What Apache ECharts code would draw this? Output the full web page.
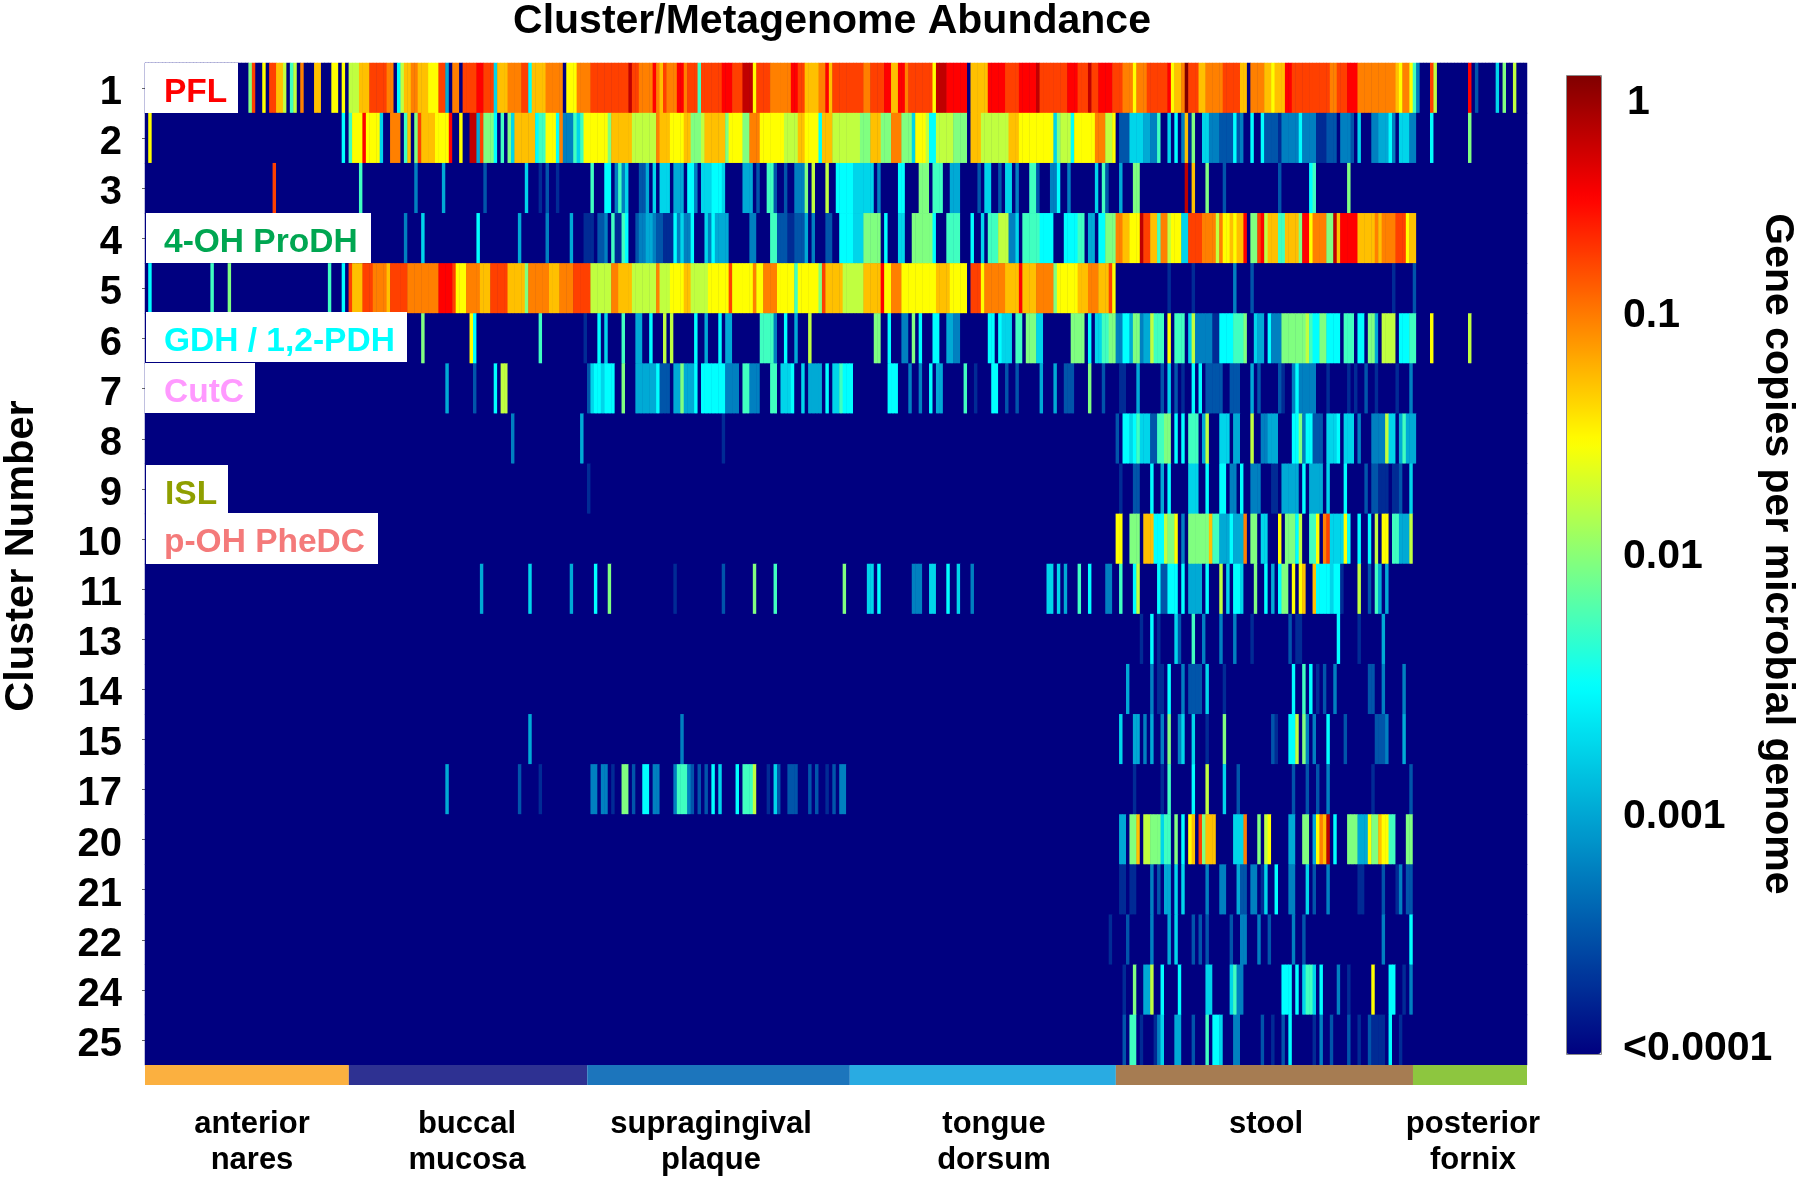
<!DOCTYPE html>
<html><head><meta charset="utf-8">
<script src="https://cdn.jsdelivr.net/npm/echarts@6/dist/echarts.min.js"></script>
<style>html,body{margin:0;background:#fff}#c{width:1800px;height:1182px}</style></head>
<body><div id="c"></div>
<script>
// Sample count across the x axis, cluster row labels
const sampleCount = 400;
const clusters = ['1','2','3','4','5','6','7','8','9','10','11','13','14','15','17','20','21','22','24','25'];
// Abundance in quarter-decades above 1e-4 copies: 0 = <0.0001, 4 = 0.001, 8 = 0.01, 12 = 0.1, 16 = 1
// Entries: [sample, level] or [firstSample, lastSample, level]
const c1 = [[30,8],[31,13],[34,10],[36,37,13],[38,39,11],[40,9],[42,7],[43,9],[45,12],[49,50,11],[54,55,10],[57,10],[59,61,9],[62,64,11],[65,69,13],[70,71,12],[73,6],[74,9],[75,76,11],[77,78,12],[79,81,11],[82,84,10],[85,86,13],[87,4],[89,90,12],[92,95,13],[96,97,14],[98,100,13],[101,5],[102,104,11],[105,108,12],[109,110,13],[111,6],[112,115,11],[116,120,12],[122,124,10],[125,128,12],[129,139,13],[140,15],[141,142,13],[143,146,12],[147,14],[148,12],[149,11],[150,13],[151,153,12],[154,155,14],[156,12],[157,159,13],[160,7],[161,166,13],[167,169,14],[170,172,13],[173,175,15],[176,10],[177,180,13],[181,186,12],[187,188,14],[189,190,13],[191,194,11],[195,196,12],[197,14],[198,11],[199,207,13],[208,209,12],[210,213,13],[214,215,14],[216,217,11],[218,219,14],[220,12],[221,227,13],[228,10],[229,231,15],[232,237,14],[239,243,11],[244,248,14],[249,252,13],[253,257,14],[258,15],[259,266,13],[267,269,14],[270,272,13],[273,15],[274,275,13],[276,279,14],[280,282,13],[283,285,12],[286,10],[287,289,12],[290,295,13],[296,14],[297,10],[298,299,11],[300,12],[301,16],[302,304,13],[305,306,11],[307,311,12],[312,316,13],[317,318,11],[320,323,12],[324,325,11],[326,10],[327,329,11],[330,331,14],[332,342,13],[343,344,12],[345,347,13],[348,350,14],[351,361,12],[362,11],[363,10],[364,365,12],[366,10],[367,7],[368,3],[372,13],[373,9],[383,14],[385,2],[391,5],[393,8],[396,9]];
const c2 = [[1,10],[57,6],[59,7],[60,62,10],[63,14],[64,67,10],[68,5],[71,73,12],[75,7],[76,11],[78,8],[79,13],[80,83,11],[84,87,10],[88,14],[91,10],[94,95,15],[96,4],[97,13],[98,100,8],[101,6],[103,7],[105,8],[106,5],[107,112,11],[113,6],[114,115,7],[116,118,10],[119,6],[120,12],[121,123,3],[124,7],[125,5],[126,7],[127,133,10],[134,8],[135,136,11],[137,140,11],[141,147,9],[148,12],[149,151,11],[152,155,10],[156,157,11],[158,160,8],[161,9],[162,167,11],[168,8],[169,172,10],[173,174,8],[175,177,12],[178,184,10],[185,188,9],[189,190,11],[191,194,10],[195,6],[196,198,11],[199,206,9],[207,209,8],[210,212,11],[213,215,8],[216,218,12],[219,221,8],[222,5],[223,225,10],[226,9],[227,228,6],[229,233,9],[234,237,8],[239,241,11],[242,249,9],[250,252,11],[253,262,10],[263,5],[264,8],[265,267,9],[268,6],[269,274,10],[275,277,12],[278,279,9],[280,10],[282,285,2],[285,288,5],[289,290,4],[291,292,3],[293,7],[296,5],[298,6],[300,3],[301,11],[302,1],[303,8],[306,307,5],[308,310,3],[311,314,2],[315,6],[316,2],[317,3],[320,6],[323,6],[324,327,2],[328,1],[329,333,3],[334,6],[335,338,3],[339,341,1],[342,344,2],[346,348,3],[349,2],[351,5],[355,356,3],[357,359,4],[360,6],[361,3],[363,365,5],[366,367,3],[372,6],[383,8]];
const c3 = [[37,13],[62,7],[78,3],[86,4],[98,2],[110,5],[114,1],[116,2],[119,1],[129,7],[133,134,6],[136,138,3],[139,5],[137,7],[143,144,2],[145,4],[147,5],[149,151,5],[153,155,4],[157,158,6],[159,3],[161,163,5],[164,166,6],[167,5],[173,175,4],[177,2],[180,181,7],[182,2],[185,2],[188,190,3],[191,8],[193,9],[197,9],[200,204,6],[205,207,5],[208,210,5],[212,3],[218,219,6],[224,226,8],[228,230,7],[233,235,4],[241,2],[243,244,5],[247,2],[249,250,5],[252,3],[256,257,7],[258,2],[262,263,3],[264,6],[267,3],[275,5],[277,7],[278,2],[282,4],[286,287,8],[301,15],[303,11],[307,8],[312,2],[328,2],[337,6],[338,7],[348,8]];
const c4 = [[75,3],[80,5],[96,6],[108,4],[116,3],[123,4],[127,129,1],[131,132,2],[133,3],[135,7],[136,137,1],[139,6],[138,7],[142,2],[143,144,3],[145,146,4],[147,3],[148,149,2],[150,152,1],[153,6],[154,3],[155,5],[156,157,3],[158,6],[162,5],[163,3],[164,6],[165,168,4],[175,176,3],[181,182,7],[183,185,2],[186,187,1],[188,190,2],[191,4],[193,3],[197,198,2],[201,204,6],[205,207,5],[208,212,8],[214,6],[218,219,5],[222,227,8],[228,6],[232,235,7],[239,6],[242,5],[244,246,7],[247,249,9],[250,251,3],[252,5],[254,258,7],[259,262,6],[266,269,6],[270,271,7],[273,274,4],[276,277,6],[278,280,8],[281,282,12],[283,284,11],[285,287,10],[288,15],[289,290,13],[291,292,11],[293,7],[294,295,12],[296,9],[297,299,10],[300,301,5],[302,305,13],[306,309,12],[310,9],[311,12],[312,313,10],[314,11],[315,10],[316,317,11],[318,14],[320,321,8],[322,13],[323,14],[324,9],[325,327,11],[328,329,7],[330,333,11],[334,8],[335,336,14],[337,10],[338,341,12],[342,343,8],[344,15],[345,11],[346,350,14],[351,355,11],[356,12],[357,11],[358,361,12],[362,364,13],[365,10],[366,367,11]];
const c5 = [[1,6],[19,7],[24,8],[53,7],[57,6],[59,13],[60,62,11],[63,65,13],[66,69,12],[70,11],[71,75,13],[76,84,12],[85,88,14],[89,13],[90,92,10],[93,96,12],[97,99,11],[100,104,13],[105,109,11],[110,8],[111,116,12],[117,119,11],[120,123,12],[124,128,13],[129,134,9],[135,136,12],[137,140,11],[141,147,9],[148,12],[149,151,9],[152,155,10],[156,157,11],[158,162,9],[163,168,10],[169,13],[170,175,10],[176,12],[177,178,10],[179,182,12],[183,187,10],[188,7],[189,194,10],[195,8],[196,13],[197,201,11],[202,207,9],[208,212,11],[213,14],[214,215,10],[216,218,12],[219,228,10],[229,232,11],[233,237,10],[239,241,13],[242,10],[243,248,12],[249,252,11],[253,14],[254,257,11],[258,262,12],[263,8],[264,269,10],[270,272,11],[273,275,12],[276,278,11],[279,13],[280,10],[296,1],[303,1],[315,3],[320,2],[361,1],[367,2]];
const c6 = [[80,8],[94,10],[95,6],[114,7],[127,1],[131,6],[133,5],[138,7],[142,143,4],[146,6],[150,9],[152,9],[159,6],[162,4],[166,6],[168,169,4],[178,181,7],[182,3],[185,6],[188,4],[192,9],[211,212,8],[215,6],[219,220,3],[222,8],[224,6],[228,229,6],[232,233,4],[234,235,3],[244,245,6],[247,6],[248,250,5],[252,253,7],[255,257,8],[258,259,5],[268,271,8],[273,6],[275,276,5],[277,278,7],[279,280,8],[281,282,3],[283,284,6],[285,4],[286,287,8],[288,3],[289,290,4],[291,9],[292,294,7],[296,10],[298,300,7],[302,5],[303,9],[304,308,3],[309,310,1],[311,314,6],[315,317,7],[318,8],[321,5],[322,323,4],[325,6],[326,328,3],[329,335,8],[336,9],[337,7],[338,339,6],[340,341,8],[342,345,6],[347,349,7],[351,352,6],[354,355,8],[356,4],[358,361,9],[363,365,6],[366,367,7],[372,10],[383,9]];
const c7 = [[87,4],[95,2],[101,6],[103,104,9],[128,2],[129,5],[130,131,6],[132,5],[133,135,6],[138,8],[142,147,4],[148,6],[149,151,2],[153,154,4],[155,8],[156,158,4],[159,6],[161,167,6],[168,171,3],[173,174,7],[175,177,3],[181,182,7],[184,186,5],[187,6],[190,5],[192,195,4],[197,6],[199,200,5],[201,7],[202,204,6],[215,217,6],[221,3],[224,3],[227,6],[229,230,4],[237,7],[240,1],[245,246,6],[249,2],[252,2],[259,4],[263,4],[266,268,2],[273,8],[277,2],[282,283,1],[287,4],[294,2],[296,5],[298,2],[300,1],[303,6],[305,6],[307,311,2],[314,316,2],[320,4],[322,2],[328,2],[329,1],[332,3],[333,6],[334,338,3],[342,1],[348,1],[350,1],[353,2],[356,1],[362,1],[366,3]];
const c8 = [[106,3],[126,4],[167,1],[281,2],[283,284,6],[285,5],[286,6],[287,7],[288,5],[289,290,5],[291,292,2],[293,294,7],[295,296,8],[298,6],[300,6],[302,304,7],[306,4],[307,9],[311,313,5],[315,316,4],[320,9],[323,324,3],[325,4],[326,327,4],[332,333,6],[334,8],[335,3],[336,337,6],[338,340,2],[342,344,5],[345,6],[347,349,5],[351,3],[355,358,3],[359,9],[360,361,5],[363,4],[364,7],[365,367,4]];
const c9 = [[128,1],[282,1],[286,287,2],[291,6],[294,4],[296,6],[302,304,5],[307,6],[311,312,6],[314,315,3],[317,6],[320,322,3],[326,327,1],[329,333,4],[335,6],[337,340,4],[342,5],[347,6],[353,2],[355,356,2],[357,359,1],[361,362,1],[363,2],[366,5]];
const c10 = [[281,282,10],[285,287,8],[289,291,11],[292,294,6],[295,9],[296,297,8],[298,10],[300,3],[302,307,8],[308,11],[309,310,7],[311,313,4],[314,6],[315,317,4],[318,12],[320,321,8],[323,324,5],[328,10],[330,332,8],[333,6],[334,9],[337,338,7],[339,10],[341,12],[342,13],[343,346,5],[347,10],[348,6],[351,6],[354,6],[356,9],[358,359,10],[361,362,7],[363,365,4],[366,9]];
const c11 = [[97,4],[111,5],[123,4],[130,6],[134,8],[153,1],[167,2],[176,8],[182,7],[202,8],[209,210,5],[212,6],[222,224,3],[227,5],[228,5],[232,6],[235,5],[239,3],[261,262,5],[264,5],[266,4],[270,7],[273,6],[278,279,3],[282,7],[286,6],[287,9],[293,6],[294,295,2],[296,298,6],[300,6],[302,305,4],[307,6],[311,9],[313,5],[315,316,6],[317,5],[321,8],[324,6],[326,4],[328,6],[329,330,8],[332,10],[334,10],[335,11],[338,11],[339,342,6],[343,5],[344,345,6],[346,1],[351,9],[354,2],[356,7],[357,4],[359,4]];
const c13 = [[288,1],[291,6],[293,1],[298,5],[299,2],[303,7],[306,3],[311,3],[315,3],[320,1],[331,2],[333,334,1],[345,6],[351,1],[358,4]];
const c14 = [[284,4],[291,3],[293,294,1],[296,6],[300,3],[302,304,2],[305,2],[307,5],[312,1],[332,6],[335,7],[337,6],[339,1],[341,2],[344,3],[354,355,2],[358,3],[364,3]];
const c15 = [[111,4],[155,3],[282,5],[286,287,4],[289,3],[291,4],[294,3],[296,8],[299,3],[300,5],[303,5],[307,1],[312,8],[326,2],[327,1],[331,332,6],[333,9],[335,8],[336,3],[338,3],[342,6],[347,2],[356,358,2],[359,3],[364,4]];
const c17 = [[87,4],[108,2],[114,1],[129,130,3],[132,133,3],[135,1],[138,139,8],[141,2],[144,145,6],[147,148,3],[153,3],[154,156,7],[157,3],[158,2],[160,2],[162,2],[164,6],[166,5],[171,6],[173,175,7],[176,9],[180,1],[182,5],[183,2],[186,188,2],[192,2],[194,2],[197,1],[199,2],[201,202,3],[286,1],[294,1],[296,7],[303,6],[307,9],[312,5],[316,2],[332,2],[336,2],[339,2],[342,3],[355,1],[366,2]];
const c20 = [[282,283,4],[285,286,8],[287,11],[289,290,9],[291,293,8],[294,5],[295,296,7],[298,8],[300,6],[302,10],[303,11],[305,13],[306,8],[307,309,11],[315,317,5],[318,12],[322,8],[324,9],[325,10],[331,332,4],[335,336,8],[338,4],[339,10],[340,12],[341,11],[342,15],[344,6],[348,350,8],[351,353,4],[354,10],[355,356,8],[357,11],[358,359,10],[360,361,7],[365,366,8]];
const c21 = [[282,283,1],[285,286,1],[291,3],[293,2],[295,296,4],[298,5],[300,5],[307,3],[311,312,3],[316,4],[317,318,2],[320,321,3],[323,1],[324,5],[327,6],[331,332,3],[336,5],[338,2],[342,3],[351,352,1],[358,2],[362,1],[363,3],[365,366,2]];
const c22 = [[279,1],[284,2],[291,3],[296,4],[298,5],[303,2],[305,2],[307,2],[314,2],[317,318,3],[322,3],[325,2],[332,3],[335,2],[358,3],[366,6]];
const c24 = [[283,1],[286,8],[289,290,4],[291,9],[294,6],[299,6],[307,308,5],[314,5],[315,7],[316,317,3],[329,331,6],[333,6],[335,5],[336,337,7],[338,5],[340,6],[345,3],[348,1],[355,10],[360,361,6],[364,1],[366,3]];
const c25 = [[283,2],[285,286,7],[288,1],[292,1],[293,3],[294,5],[298,299,4],[303,2],[307,7],[309,310,6],[311,5],[315,316,3],[323,2],[326,1],[329,2],[331,6],[338,1],[340,3],[343,2],[348,2],[351,1],[354,2],[355,358,1],[360,6],[363,1]];
const clusterRows = [c1,c2,c3,c4,c5,c6,c7,c8,c9,c10,c11,c13,c14,c15,c17,c20,c21,c22,c24,c25];
// Body sites along the bottom: names and sample counts
const siteNames = ['anterior nares','buccal mucosa','supragingival plaque','tongue dorsum','stool','posterior fornix'];
const siteSamples = [59,69,76,77,86,33];
const siteColors = ['#fbb040','#2e3192','#1c75bc','#29abe2','#a67c52','#8dc63f'];
const scaleLabels = ['1','0.1','0.01','0.001','<0.0001'];
const enzymeLabels = ['PFL','4-OH ProDH','GDH / 1,2-PDH','CutC','ISL','p-OH PheDC'];
const enzymeColors = ['#ff0000','#00a651','#00ffff','#ff99ff','#8f9f00','#f47a7a'];

const F = '"Liberation Sans", Arial, sans-serif';
const jet = ['#000080','#0055aa','#00aad5','#00ffff','#80ff80','#ffff00','#ff8000','#ff0000','#800000'];

const cells = [];
clusterRows.forEach((row, r) => {
  const cols = new Array(sampleCount).fill(0);
  row.forEach(e => {
    const s = e[0], t = e.length === 3 ? e[1] : e[0], v = e[e.length - 1];
    for (let i = s; i <= t; i++) cols[i] = v;
  });
  cols.forEach((v, i) => cells.push([i, r, v]));
});
const sampleCats = Array.from({length: sampleCount}, (_, i) => String(i));

const txt = (x, y, text, size, extra) => Object.assign({
  type: 'text', x, y, z: 20,
  style: Object.assign({text, font: 'bold ' + size + 'px ' + F, fill: '#000', textAlign: 'center', textVerticalAlign: 'middle'}, extra && extra.style)
}, extra && extra.el);

const boxes = [[145,63,93,50,164,93],[146,213,225,50,164,243],[146,312,261,50,164,342],[145,363,110,50,164,393],[146,465,82,48,165,495],[146,513,232,51,164,543]];
const graphics = [];
boxes.forEach((b, i) => {
  graphics.push({type:'rect', z:19, shape:{x:b[0],y:b[1],width:b[2],height:b[3]}, style:{fill:'#fff'}});
  graphics.push(txt(b[4], b[5], enzymeLabels[i], 33.5, {style:{fill:enzymeColors[i], textAlign:'left'}}));
});
graphics.push(txt(832, 22, 'Cluster/Metagenome Abundance', 41));
graphics.push(txt(22, 556, 'Cluster Number', 41.5, {el:{rotation:Math.PI/2}}));
graphics.push(txt(1777, 554, 'Gene copies per microbial genome', 41, {el:{rotation:-Math.PI/2}}));
const scaleY = [103, 316, 557, 817, 1049];
const scaleX = [1627, 1623, 1623, 1623, 1623];
scaleLabels.forEach((t, i) => graphics.push(txt(scaleX[i], scaleY[i], t, 41, {style:{textAlign:'left'}})));
graphics.push({type:'rect', z:18, shape:{x:1566.5,y:75.5,width:35,height:979}, style:{fill:'none',stroke:'#8a8a8a',lineWidth:1}});
const siteLabelX = [252,467,711,994,1266,1473];
siteNames.forEach((n, i) => {
  const parts = n.split(' ');
  graphics.push(txt(siteLabelX[i], 1124, parts[0], 31));
  if (parts[1]) graphics.push(txt(siteLabelX[i], 1160, parts[1], 31));
});

echarts.init(document.getElementById('c'), null, {renderer:'canvas'}).setOption({
  animation: false,
  backgroundColor: '#fff',
  grid: [
    {left:145, top:63, width:1382, height:1002, show:true, backgroundColor:'#000080', borderWidth:0},
    {left:145, top:1065, width:1382, height:20, borderWidth:0}
  ],
  xAxis: [
    {type:'category', data:sampleCats, gridIndex:0, show:false},
    {type:'value', gridIndex:1, min:0, max:sampleCount, show:false}
  ],
  yAxis: [
    {type:'category', data:clusters, inverse:true, gridIndex:0,
      axisLine:{show:true, lineStyle:{color:'#b4b4e0', width:1}},
      axisTick:{show:true, length:3, alignWithLabel:true, lineStyle:{color:'#666'}},
      splitArea:{show:false},
      axisLabel:{margin:23, color:'#000', fontFamily:F, fontWeight:'bold', fontSize:40, verticalAlign:'top', lineHeight:10, interval:0}},
    {type:'category', data:['site'], gridIndex:1, show:false}
  ],
  visualMap: {
    type:'continuous', seriesIndex:0, min:0, max:16, left:1566, top:75, itemWidth:35, itemHeight:979,
    padding:0, text:null, calculable:false, realtime:false, hoverLink:false, showLabel:false,
    inRange:{color:jet}
  },
  graphic: graphics,
  series: [
    {type:'heatmap', xAxisIndex:0, yAxisIndex:0, data:cells, progressive:0, silent:true, itemStyle:{borderWidth:0}, emphasis:{disabled:true}},
  ].concat(siteNames.map((n, i) => ({
    type:'bar', name:n, stack:'sites', xAxisIndex:1, yAxisIndex:1, barWidth:'100%', silent:true,
    data:[siteSamples[i]], itemStyle:{color:siteColors[i]}
  })))
});
</script></body></html>
